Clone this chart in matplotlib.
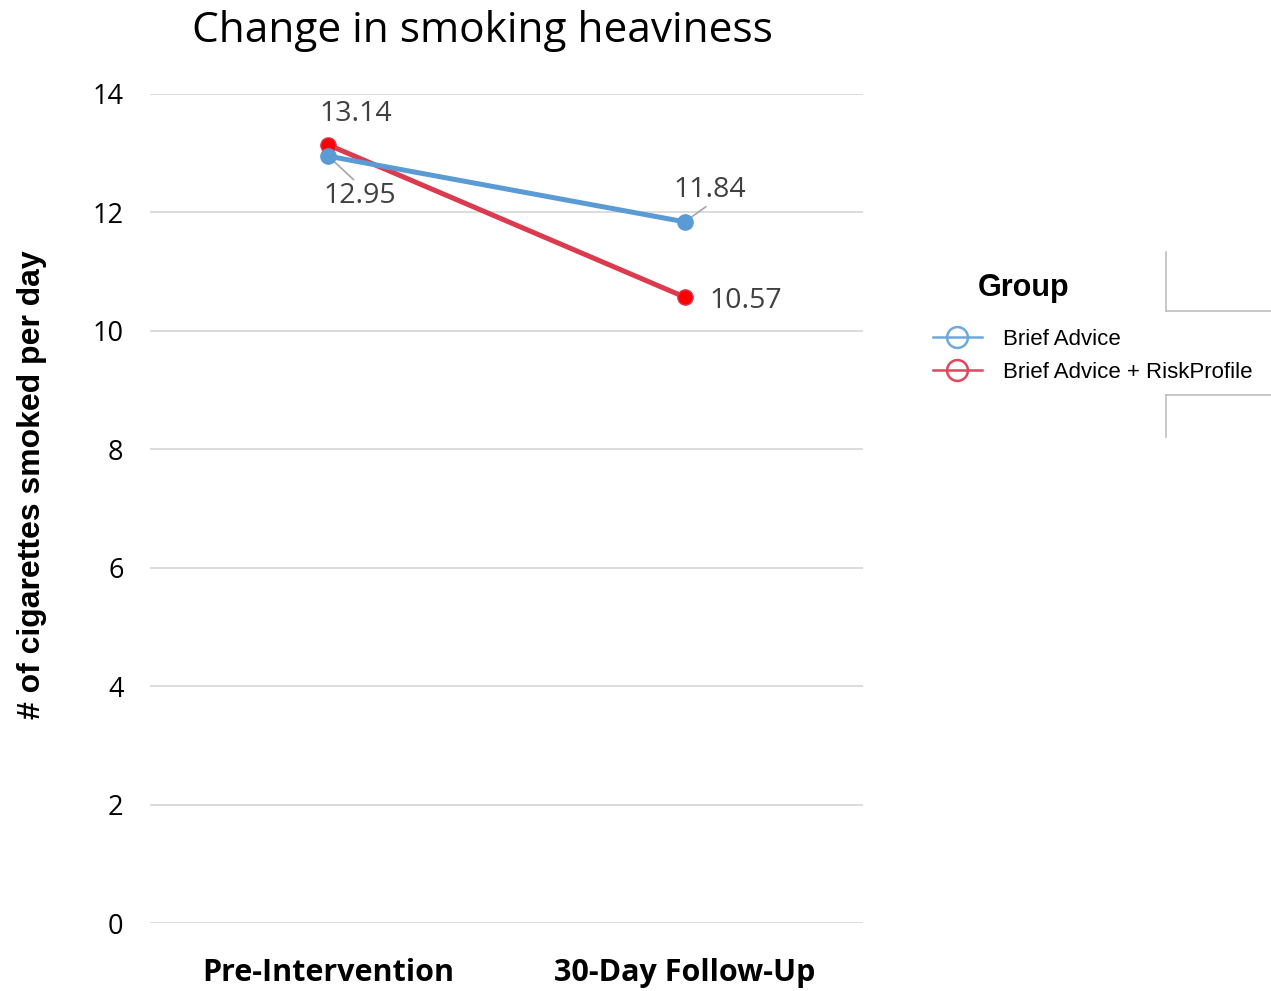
import matplotlib
matplotlib.use("Agg")
import matplotlib.pyplot as plt
from matplotlib.lines import Line2D

# Mean cigarettes per day at each time point
timepoints = ["Pre-Intervention", "30-Day Follow-Up"]
brief_advice = [12.95, 11.84]
brief_advice_risk = [13.14, 10.57]
group_names = ["Brief Advice", "Brief Advice + RiskProfile"]
y_ticks = [0, 2, 4, 6, 8, 10, 12, 14]

BLUE = "#5B9BD5"
RED_LINE = "#DC3A4E"
RED_DOT = "#FF0000"
LABEL_GRAY = "#404040"
W, H = 1271, 991

fig = plt.figure(figsize=(12.71, 9.91), dpi=100)
ax = fig.add_axes([0.118, 0.0686, 0.561, 0.8366])

x = list(range(len(timepoints)))
ax.plot(x, brief_advice_risk, color=RED_LINE, lw=3.6, marker="o", ms=11,
        mfc=RED_DOT, mec=RED_LINE, mew=1, zorder=3)
ax.plot(x, brief_advice, color=BLUE, lw=3.6, marker="o", ms=11,
        mfc=BLUE, mec=BLUE, zorder=4)

ax.set_xlim(-0.5, 1.5)
ax.set_ylim(0, 14)
ax.set_yticks(y_ticks)
ax.set_xticks(x)
ax.set_xticklabels(timepoints, fontfamily="Open Sans", fontweight="bold", fontsize=22)
ax.tick_params(axis="x", length=0, pad=25)
ax.tick_params(axis="y", length=0, pad=19, labelsize=19.5)
for lbl in ax.get_yticklabels():
    lbl.set_fontfamily("Open Sans")
ax.grid(axis="y", color="#D9D9D9", lw=1.3)
ax.set_axisbelow(True)
for s in ax.spines.values():
    s.set_visible(False)

fig.text(32 / W, 1 - 485 / H, "# of cigarettes smoked per day", rotation=90,
         ha="center", va="center", fontfamily="Liberation Sans",
         fontweight="bold", fontsize=23)
fig.text(482 / W, 1 - 31 / H, "Change in smoking heaviness", ha="center",
         va="center", fontfamily="Open Sans", fontsize=30.5)

# value labels, with short leader lines where the label sits off the point
lab = dict(fontfamily="Open Sans", fontsize=20.5, color=LABEL_GRAY)
ax.annotate(f"{brief_advice_risk[0]:.2f}", (0, brief_advice_risk[0]),
            xytext=(19.5, 22), textcoords="offset points", ha="center", va="center", **lab)
ax.annotate(f"{brief_advice[0]:.2f}", (0, brief_advice[0]),
            xytext=(23, -29), textcoords="offset points", ha="center", va="center",
            arrowprops=dict(arrowstyle="-", color="#A6A6A6", lw=1.2,
                            shrinkA=0, shrinkB=0, relpos=(0.45, 1.0)), **lab)
ax.annotate(f"{brief_advice[1]:.2f}", (1, brief_advice[1]),
            xytext=(18, 23), textcoords="offset points", ha="center", va="center",
            arrowprops=dict(arrowstyle="-", color="#A6A6A6", lw=1.2,
                            shrinkA=0, shrinkB=0, relpos=(0.5, 0.0)), **lab)
ax.annotate(f"{brief_advice_risk[1]:.2f}", (1, brief_advice_risk[1]),
            xytext=(44, -2.5), textcoords="offset points", ha="center", va="center", **lab)

# legend with hollow markers, title set separately
fig.text(978 / W, 1 - 288 / H, "Group", ha="left", va="center",
         fontfamily="Liberation Sans", fontweight="bold", fontsize=22)
handles = [
    Line2D([], [], color="#6FA8DC", lw=1.8, marker="o", ms=15, mfc="none", mew=1.8),
    Line2D([], [], color="#E0475C", lw=1.8, marker="o", ms=15, mfc="none", mew=1.8),
]
fig.legend(handles, group_names, loc="upper left",
           bbox_to_anchor=(933 / W, 1 - 329 / H), borderaxespad=0, borderpad=0,
           frameon=False, handlelength=2.2, handletextpad=0.95,
           labelspacing=0.55, prop=dict(family="Liberation Sans", size=16))

# partial frame lines at the right edge
frame = [
    ((1166, 1166), (252, 311)),
    ((1166, 1271), (311, 311)),
    ((1166, 1271), (395, 395)),
    ((1166, 1166), (395, 437)),
]
for xs, ys in frame:
    fig.add_artist(Line2D([v / W for v in xs], [1 - v / H for v in ys],
                          color="#BFBFBF", lw=1.2))

fig.savefig("out.png", dpi=100)
